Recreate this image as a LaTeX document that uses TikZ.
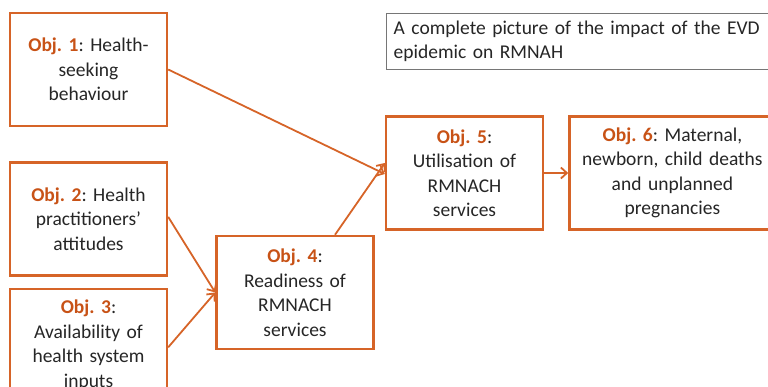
\documentclass[tikz,border=0pt]{standalone}
\usepackage{fontspec}
\setmainfont{Carlito}
\usetikzlibrary{positioning, arrows.meta}
\definecolor{objorange}{RGB}{214,100,40}
\definecolor{objred}{RGB}{200,82,22}
\definecolor{textgray}{RGB}{38,38,38}
\definecolor{notegray}{RGB}{118,118,118}
\tikzset{
    objbox/.style={rectangle, minimum width=157pt, minimum height=113pt, text width=152pt, inner sep=0pt, align=center, draw=objorange, line width=2.4pt, fill=white, text=textgray, font=\fontsize{19.5}{24.5}\selectfont},
    notebox/.style={rectangle, minimum width=390pt, minimum height=56pt, text width=376pt, inner xsep=7pt, inner ysep=0pt, align=left, draw=notegray, line width=1.4pt, fill=white, text=textgray, font=\fontsize{19.5}{24}\selectfont},
    arrow/.style={draw=objorange, line width=1.8pt, -{Straight Barb[length=6pt, width=11pt]}}
}
\newcommand{\objno}[1]{\textcolor{objred}{\bfseries Obj.\ #1}}
\frenchspacing

\begin{document}
\begin{tikzpicture}[x=1pt, y=-1pt]
        \useasboundingbox (0,0) rectangle (768,387);
        \clip (0,0) rectangle (768,387);

        \node (obj1) [objbox] at (88.5,69.5) {\objno{1}: Health-\\seeking\\behaviour};
        \node (obj2) [objbox, below=34pt of obj1] {\objno{2}: Health\\practitioners'\\attitudes};
        \node (obj3) [objbox, below=11pt of obj2] {\objno{3}:\\Availability of\\health system\\inputs};
        \node (obj4) [objbox] at (295,292.5) {\objno{4}:\\Readiness of\\RMNACH\\services};
        \node (obj5) [objbox] at (464.5,173) {\objno{5}:\\Utilisation of\\RMNACH\\services};
        \node (obj6) [objbox, minimum width=206pt, text width=200pt, right=24pt of obj5] {\objno{6}: Maternal,\\newborn, child deaths\\and unplanned\\pregnancies};
        \node (note) [notebox, anchor=north west] at (386,13) {A complete picture of the impact of the EVD\\epidemic on RMNAH};

        \draw [arrow] (obj1.east) -- ([yshift=-1pt]obj5.west);
        \draw [arrow] ([yshift=2pt]obj2.east) -- (obj4.west);
        \draw [arrow] ([yshift=-2pt]obj3.east) -- (obj4.west);
        \draw [arrow] ([xshift=40pt]obj4.north) -- ([yshift=10pt]obj5.west);
        \draw [arrow] (obj5) -- (obj6);
    \end{tikzpicture}
\end{document}
